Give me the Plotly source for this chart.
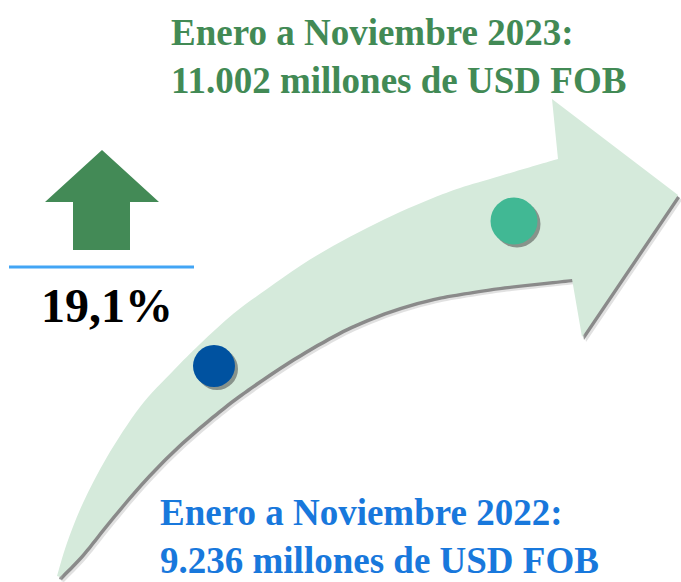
import plotly.graph_objects as go

# ---- data ----
periods = ["Enero a Noviembre 2022", "Enero a Noviembre 2023"]
values_musd = [9236, 11002]
unit_label = "millones de USD FOB"
growth_pct = 19.1

# ---- layout constants (pixel space of the 681x582 canvas) ----
W, H = 681, 582
marker_pos = [(214, 366), (514, 221)]
marker_size = [42, 47]
marker_color = ["#0052A0", "#41B894"]
text_color = ["#1878DC", "#428A55"]
label_pos = [(158, 512, 560), (169, 32, 80)]   # x, y line1, y line2
arrow_fill = "#D5EADB"
up_color = "#438A56"
line_color = "#42A5F5"
FONT = "Liberation Serif"

upper = [(57, 576), (67, 543), (83, 503), (107, 457), (140, 407), (173, 371),
         (200, 344), (233, 314), (267, 289), (300, 266), (333, 246), (367, 228),
         (400, 212), (433, 198), (460, 188), (500, 176), (558, 159)]
lower = [(60, 577), (83, 553), (107, 523), (140, 484), (173, 450), (207, 420),
         (240, 394), (287, 362), (333, 335), (367, 319), (400, 307), (433, 298),
         (460, 293), (500, 287), (572, 279)]
head = [(552, 99), (678, 195), (582, 337)]


def smooth(pts):
    # Catmull-Rom -> cubic bezier path segments
    s = ""
    n = len(pts)
    for i in range(n - 1):
        p0 = pts[i - 1] if i > 0 else pts[i]
        p1 = pts[i]
        p2 = pts[i + 1]
        p3 = pts[i + 2] if i + 2 < n else pts[i + 1]
        c1 = (p1[0] + (p2[0] - p0[0]) / 6, p1[1] + (p2[1] - p0[1]) / 6)
        c2 = (p2[0] - (p3[0] - p1[0]) / 6, p2[1] - (p3[1] - p1[1]) / 6)
        s += f" C {c1[0]:.1f},{c1[1]:.1f} {c2[0]:.1f},{c2[1]:.1f} {p2[0]:.1f},{p2[1]:.1f}"
    return s


def arrow_path(dx=0, dy=0):
    up = [(x + dx, y + dy) for x, y in upper]
    lo = [(x + dx, y + dy) for x, y in lower][::-1]
    hd = [(x + dx, y + dy) for x, y in head]
    p = f"M {up[0][0]},{up[0][1]}" + smooth(up)
    for x, y in hd:
        p += f" L {x},{y}"
    p += f" L {lo[0][0]},{lo[0][1]}" + smooth(lo) + " Z"
    return p


shapes = [
    dict(type="path", path=arrow_path(4, 5), fillcolor="rgba(120,120,120,0.22)",
         line=dict(width=0), layer="below"),
    dict(type="path", path=arrow_path(2, 3), fillcolor="rgba(80,80,80,0.6)",
         line=dict(width=0), layer="below"),
    dict(type="path", path=arrow_path(0, 0), fillcolor=arrow_fill,
         line=dict(width=0), layer="below"),
    # green up arrow
    dict(type="path",
         path="M 102,150 L 159,202 L 130,202 L 130,250 L 73,250 L 73,202 L 45,202 Z",
         fillcolor=up_color, line=dict(width=0), layer="above"),
    # blue separator
    dict(type="line", x0=9, x1=194, y0=267, y1=267,
         line=dict(color=line_color, width=3), layer="above"),
]

fig = go.Figure()
# marker shadows
fig.add_trace(go.Scatter(
    x=[p[0] + 3 for p in marker_pos], y=[p[1] + 3 for p in marker_pos],
    mode="markers", hoverinfo="skip",
    marker=dict(size=[s for s in marker_size], color="rgba(60,60,60,0.5)",
                opacity=1, line=dict(width=0))))
fig.add_trace(go.Scatter(
    x=[p[0] for p in marker_pos], y=[p[1] for p in marker_pos],
    mode="markers", text=[f"{v:,}".replace(",", ".") for v in values_musd],
    marker=dict(size=marker_size, color=marker_color, opacity=1, line=dict(width=0))))


def fmt(v):
    return f"{v:,}".replace(",", ".")


annotations = []
for i in range(2):
    x, y1, y2 = label_pos[i]
    annotations.append(dict(x=x, y=y1, text=f"<b>{periods[i]}:</b>", showarrow=False,
                            xanchor="left", yanchor="middle",
                            font=dict(family=FONT, size=37, color=text_color[i])))
    annotations.append(dict(x=x, y=y2, text=f"<b>{fmt(values_musd[i])} {unit_label}</b>",
                            showarrow=False, xanchor="left", yanchor="middle",
                            font=dict(family=FONT, size=37, color=text_color[i])))
annotations.append(dict(x=107, y=305,
                        text="<b>" + f"{growth_pct:.1f}".replace(".", ",") + "%</b>",
                        showarrow=False, xanchor="center", yanchor="middle",
                        font=dict(family=FONT, size=48, color="#000000")))

fig.update_layout(
    width=W, height=H, margin=dict(l=0, r=0, t=0, b=0),
    paper_bgcolor="white", plot_bgcolor="white", showlegend=False,
    xaxis=dict(range=[0, W], visible=False, fixedrange=True),
    yaxis=dict(range=[H, 0], visible=False, fixedrange=True),
    shapes=shapes, annotations=annotations,
)
fig.write_html("out.html", config={"displayModeBar": False},
               post_script="document.body.style.margin='0';document.body.style.overflow='hidden';")
